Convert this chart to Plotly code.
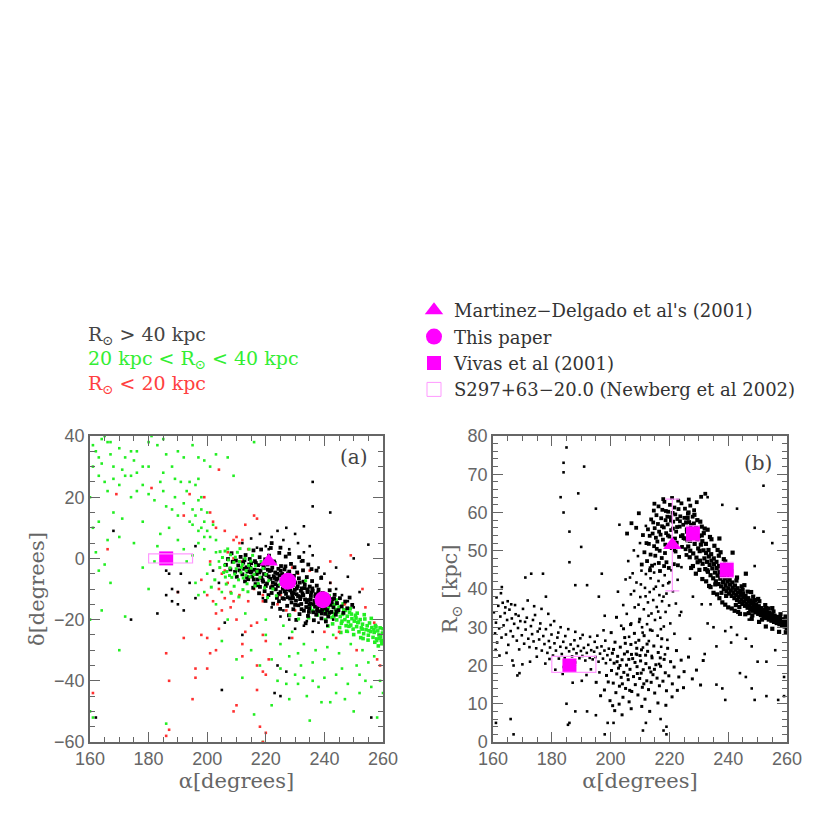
import plotly.graph_objects as go

# ---------------- panel (a): alpha / delta ----------------
# black stars, R > 40 kpc : dense stream
a_blk_band = [
    (206.4,-2.1),(207.1,-0.2),(207.9,-3.6),(208.3,1.7),(208.7,-1.1),(209.5,-4.4),(209.8,-0.7),(210.6,-2.3),
    (210.1,-6.0),(211.4,0.5),(211.0,-3.9),(212.3,-1.4),(212.0,-5.2),(212.9,-7.5),(213.4,-2.9),(213.1,1.1),
    (213.8,-4.3),(214.5,-0.2),(214.0,-6.8),(214.7,-3.1),(215.4,-5.9),(215.0,-1.6),(215.8,2.6),(216.1,-3.7),
    (216.5,-8.4),(216.3,-0.9),(216.9,-5.1),(217.4,-2.2),(217.2,-6.9),(217.9,0.4),(218.2,-4.0),(218.0,-9.3),
    (218.7,-1.8),(218.5,-6.3),(219.3,-3.2),(219.1,-7.6),(219.8,-0.3),(219.6,-10.7),(220.2,-5.4),(220.6,-2.0),
    (220.4,-8.2),(220.9,-12.0),(221.3,-4.1),(221.5,-6.7),(221.1,0.9),(221.8,-9.5),(222.2,-3.0),(222.0,-11.3),
    (222.7,-5.8),(222.4,-7.9),(223.0,-1.5),(223.4,-10.1),(223.2,-4.6),(223.8,-12.9),(223.6,-7.0),(224.3,-3.4),
    (224.1,-9.0),(224.7,-5.5),(224.5,-14.0),(225.0,-11.0),(225.4,-7.7),(225.2,-2.5),(225.8,-9.9),(225.6,-5.1),
    (226.2,-13.2),(226.0,-6.4),(226.6,-8.6),(226.4,-3.6),(226.9,-11.6),(227.3,-15.5),(227.1,-6.0),(227.7,-9.2),
    (227.5,-12.7),(228.0,-4.3),(228.4,-10.5),(228.2,-7.3),(228.8,-14.4),(228.6,-1.8),(229.2,-8.8),(229.0,-12.0),
    (229.6,-5.7),(229.4,-16.6),(229.9,-10.3),(230.3,-13.8),(230.1,-7.9),(230.7,-4.6),(230.5,-11.7),(231.1,-15.3),
    (230.9,-9.1),(231.5,-18.2),(231.3,-6.5),(231.9,-12.6),(232.3,-9.8),(232.1,-14.9),(232.7,-3.9),(232.5,-11.4),
    (233.0,-17.1),(232.9,-7.6),(233.4,-13.4),(233.2,-9.7),(233.8,-15.9),(234.2,-11.0),(234.0,-6.1),(234.6,-13.6),
    (234.4,-18.8),(235.0,-9.2),(234.8,-16.3),(235.4,-12.2),(235.2,-14.7),(235.8,-7.4),(236.2,-17.6),(236.0,-10.6),
    (236.6,-13.9),(236.4,-20.2),(237.0,-11.7),(236.8,-15.8),(237.4,-8.9),(237.2,-18.4),(237.8,-13.0),(238.2,-15.6),
    (238.0,-10.2),(238.6,-17.3),(238.4,-12.5),(239.0,-19.6),(238.8,-14.4),(239.4,-11.3),(239.2,-16.8),(239.8,-13.7),
    (240.3,-18.1),(240.1,-15.4),(240.7,-11.9),(240.5,-20.6),(241.1,-14.3),(240.9,-16.9),(241.5,-12.8),(241.3,-19.0),
    (242.0,-15.2),(241.8,-10.4),(242.4,-17.5),(242.7,-13.3),(243.1,-16.0),(243.5,-11.9),(243.9,-18.4),(244.3,-14.6),
    (244.8,-16.9),(245.3,-13.0),(245.9,-15.7),(246.5,-17.8),(247.1,-14.1),(247.8,-16.3),(248.6,-12.8),(249.5,-15.2),
    (215.7,-9.6),(217.7,-11.4),(219.9,-13.9),(222.5,-14.8),(224.9,-16.5),(227.9,-18.6),(230.4,-20.1),(233.6,-21.2),
    (226.8,0.6),(229.8,-2.9),(232.6,-0.8),(235.6,-3.5),(238.9,-6.4),(224.6,1.8),(221.7,3.4),(218.4,2.9),
    (220.7,-3.7),(222.9,-6.4),(225.9,-8.1),(228.9,-11.1),(231.7,-13.3),(234.9,-15.1),(237.6,-16.6),(223.9,-5.0),
    (226.5,-10.8),(229.3,-13.0),(232.0,-10.6),(235.5,-11.1),(219.4,-5.1),(217.0,-3.9),(214.9,-4.5),(212.6,-3.4),
    (212.7,-0.6),(213.6,-6.1),(214.3,-2.0),(215.1,-4.2),(215.9,-6.9),(216.6,-1.5),(217.3,-8.8),(217.8,-4.6),
    (218.9,-7.1),(219.2,-2.4),(220.0,-9.0),(220.5,-0.9),(221.0,-5.9),(221.9,-3.9),(222.3,-9.2),(222.8,-1.0),
    (223.3,-8.4),(224.0,-6.6),(224.4,-11.6),(225.1,-4.0),(225.7,-13.0),(226.3,-7.3),(226.7,-2.6),(227.4,-10.2),
    (227.6,-4.9),(228.3,-13.1),(228.7,-8.0),(229.5,-11.4),(229.1,-6.9),(230.0,-15.2),(230.6,-9.8),(231.0,-12.3),
    (231.6,-7.9),(232.2,-16.6),(232.8,-12.0),(233.3,-8.6),(233.9,-14.3),(234.3,-10.1),(234.7,-17.5),(235.3,-13.3),
    (235.9,-9.8),(236.3,-15.0),(236.9,-12.4),(237.5,-17.2),(237.9,-11.2),(238.5,-14.0),(239.1,-18.0),(239.6,-12.3),
    (240.2,-16.4),(241.0,-13.0),(241.7,-17.8),(242.5,-14.4),(243.3,-13.1),(244.1,-17.3),(234.5,-2.0),(237.3,-4.0),
    (231.4,0.4),(228.0,1.5),(225.0,3.5),(222.0,5.0),
]
a_blk_scatter = [
    (212,5),(215,6.5),(218,8),(220,4),(222,7),(224,9),(226,6),(228,3),(230,8),(231,5),(233,2),(235,4),
    (232,-1),(236,1),(238,-3),(240,-5),(242,-8),(244,-10),(246,-12),(248,-14),(250,-16),(243,-20),(238,-21),
    (233,-22),(228,-20),(225,-19),(222,-16),(219,-13),(230,-23),(236,-24),(236,25),(236,17),(242,15),(255,4.5),
    (250,0),(252,-11),(244,-3),(248,-6),(227,-37),(223,-44),(225,-45),(205,-43),(228,-26),(212,-25),(206,-21),
    (186,-4),(187,-5),(188,-10),(186,-12),(190,-11),(188,-14),(192,-17),(191,-5),(194,-8),(190,-15),(196,4),
    (168,9),(174,-20),(162,-52),(183,-18),(196,-13),(202,-4),(204,-8),(227,10),(233,10.5),(221,3),(217,3.5),
    (239,-6),(241,-22),(234,-20.5),(226,-17),(256,-52),(224,-35),
]
# green stars, 20 < R < 40 kpc
a_grn_cloud = [
    (161,37),(162,35),(163,33),(164,39),(165,40),(166,38),(167,34),(168,30),(170,36),(172,33),(174,35),(175,32),
    (176,35),(178,30),(180,38),(181,40),(183,37),(185,39),(186,34),(188,30),(190,35),(192,33),(195,37),(197,33),
    (199,32),(201,30),(203,34),(207,33),(209,27),(216,38),(161,30),(163,27),(165,25),(166,22),(168,26),(170,24),
    (172,27),(174,20),(176,22),(178,24),(180,21),(182,19),(184,25),(185,22),(186,17),(188,16),(189,20),(190,14),
    (192,18),(193,22),(194,12),(195,16),(196,14),(197,19),(198,10),(199,12),(200,9),(201,7),(196,24),(197,26),
    (194,25),(160,20),(161,10),(163,12),(162,2),(165,-2),(167,-8),(163,-4),(164,-17),(166,6),(168,15),(170,7),
    (175,5),(178,-3),(180,-10),(172,-19),(170,-30),(161,-52),(160,-50),(186,-54),(160,-20),(178,12),(182,-1),
    (183,4),(184,8),(187,10),(190,6),(192,3),(193,-1),(195,1),(197,5),(199,3),(201,-2),(203,2),(204,-1),
    (200,-5),(196,-8),(185,28),(180,30),(176,28),(171,29),(167,38),(189,26),(191,25),(198,20),(200,15),(202,11),
    (203,6),(199,-11),(197,-12),(205,-11),(203,-15),(198,16),(199,7),(197,9),(195,11),(171,13),(164,31),(174,27),
]
a_grn_mix = [
    (205.2,0.3),(205.9,-2.2),(206.1,2.4),(206.7,-4.3),(207.2,-0.5),(207.8,-3.1),(208.0,1.2),(208.4,-6.2),
    (209.1,-1.3),(209.4,-5.1),(209.9,-3.4),(210.3,2.0),(210.7,-7.0),(211.0,-1.0),(211.5,-4.5),(212.0,-2.0),
    (212.3,-6.4),(212.9,0.0),(213.3,-4.0),(213.6,-8.3),(214.1,-2.3),(214.6,-6.0),(215.0,-3.2),(215.5,1.0),
    (216.0,-5.3),(216.5,-2.4),(217.0,-4.2),(218.0,-6.2),(218.4,-1.0),(219.1,-3.3),(220.0,-5.2),(221.0,-7.3),
    (216.3,-9.0),(212.2,-10.2),(209.2,-9.1),(206.2,-6.1),(204.3,-3.0),(204.4,2.2),(207.0,3.1),(211.2,3.2),
    (214.3,3.0),(206.5,-8.4),(208.2,-11.4),(210.8,-12.6),(213.2,-5.5),(214.9,-0.9),(217.4,-8.2),(219.6,-9.6),
    (211.7,-2.9),(209.6,0.4),(207.6,-5.6),(205.6,-4.6),(213.9,-10.9),(222.4,-10.0),(223.6,-12.2),(220.6,-12.8),
    (228.2,-18.6),(231.2,-19.8),(224.8,-8.5),(233.6,-7.3),(202.6,-7.0),(201.4,-9.4),
]
a_grn_band = [
    (238.2,-15.6),(238.6,-13.2),(239.0,-17.4),(239.4,-14.8),(239.8,-16.9),(240.2,-12.9),(240.6,-15.3),(241.0,-18.1),
    (241.4,-16.2),(241.8,-14.0),(242.2,-17.6),(242.6,-19.3),(243.0,-15.5),(243.4,-18.0),(243.8,-16.7),(244.2,-20.1),
    (244.6,-17.5),(245.0,-15.9),(245.4,-19.0),(245.8,-21.2),(246.2,-18.3),(246.6,-16.8),(247.0,-20.0),(247.4,-22.0),
    (247.8,-18.9),(248.2,-20.7),(248.6,-17.6),(249.0,-21.8),(249.4,-19.7),(249.8,-23.1),(250.2,-20.5),(250.6,-18.6),
    (251.0,-22.3),(251.4,-21.0),(251.8,-24.0),(252.2,-20.0),(252.6,-22.7),(253.0,-21.5),(253.4,-24.6),(253.8,-19.8),
    (254.2,-23.3),(254.6,-22.0),(255.0,-25.1),(255.4,-21.1),(255.8,-23.9),(256.2,-22.6),(256.6,-25.8),(257.0,-24.2),
    (257.4,-21.9),(257.8,-26.3),(258.2,-23.7),(258.6,-25.0),(259.0,-22.7),(259.4,-26.8),(259.8,-24.4),(259.6,-27.9),
    (258.4,-28.6),(257.2,-27.4),(256.0,-19.6),(254.9,-26.7),(253.6,-18.4),(252.4,-25.9),(251.2,-17.9),(250.0,-24.9),
    (248.8,-16.4),(247.6,-23.8),(246.4,-14.9),(245.2,-22.6),(244.0,-13.6),(242.8,-21.4),(241.6,-12.2),(240.4,-20.0),
    (239.2,-11.5),(237.6,-18.5),(236.8,-14.2),(236.0,-17.1),(235.2,-16.0),(234.6,-19.4),(243.6,-15.0),(249.2,-18.2),
    (255.2,-23.6),(251.6,-20.8),(247.2,-17.0),(259.2,-25.6),(260.0,-23.0),(257.6,-22.4),(253.2,-26.2),(245.6,-24.2),
    (241.2,-22.1),(250.8,-19.5),(252.9,-23.1),(256.9,-23.3),(258.9,-26.1),(246.0,-20.5),(243.2,-19.0),(248.4,-22.2),
]
a_grn_south = [
    (215,-30),(218,-35),(220,-25),(222,-33),(225,-28),(228,-32),(230,-38),(232,-35),(234,-45),(236,-40),
    (238,-42),(240,-39),(242,-47),(244,-38),(246,-36),(248,-41),(250,-50),(252,-44),(254,-40),(256,-42),
    (258,-52),(260,-44),(224,-40),(226,-22),(229,-24),(233,-28),(237,-30),(241,-29),(245,-31),(249,-28),
    (253,-30),(257,-32),(235,-53),(228,-46),(219,-60),(216,-51),(212,-39),(210,-33),(205,-27),(207,-20),
    (213,-18),(220,-20),(231,-41),(239,-47),(247,-46),(251,-35),(255,-34),(258,-27),(225,-36),(222,-48),
    (243,-25),(248,-24),(231,-31),(236,-34),(240,-33),(244,-44),(233,-39),(227,-41),(252,-38),(259,-40),
]
# red stars, R < 20 kpc
a_red = [
    (186,-31),(187,-40),(186,-58),(187,-56),(161,-44),(166,3),(169,21),(190,-11),(192,-26),(196,-36),
    (196,-39),(195,-46),(198,-25),(200,-26),(201,-31),(200,-36),(203,-30),(204,-23),(203,-18),(202,-14),
    (205,-17),(207,-8),(205,-5),(200,-12),(198,-7),(210,-20),(212,-28),(210,-48),(209,-50),(212,-32),
    (215,-22),(217,-35),(219,-37),(220,-38),(221,-33),(220,-27),(218,-55),(220,-57),(219,-60),(217,-43),
    (213,-24),(216,-10),(208,-11),(211,-12),(209,-14),(204,29),(201,-1),(202,12),(203,10),(206,9),
    (210,7),(212,6),(214,3),(213,11),(216,14),(217,13),(211,5),(209,6),(199,20),(201,15),(194,21),
    (192,14),(181,23),(249,1),(251,-30),(254,-16),(258,-33),(259,-35),(257,-21),(253,-10),(247,-15),
    (245,-24),(244,-26),(240,-24),(238,-12),(242,-1),(242,-8),(235,-4),(231,-5),(229,-3),(222,-9),
    (225,-12),(227,-17),(230,-17),(228,-10),(219,-12),(209,0),(207,2),(212,-1),(206,-4),(215,-6),
    (212,-3),(219,-14),(224,-15),(229,-26),(219,-25),(217,-21),(206,-13),(204,-10),(208,-16),(214,-14),
]

# ---------------- panel (b): alpha / R_sun ----------------
b_peak = [
    (212.4,47.3),(213.0,51.8),(212.7,55.6),(213.6,49.0),(213.3,53.9),(214.1,46.1),(214.5,57.4),(214.8,51.2),
    (214.3,54.5),(215.2,48.7),(215.6,59.3),(215.0,55.9),(215.9,52.4),(216.4,46.8),(216.1,57.0),(216.7,50.0),
    (216.3,61.6),(217.0,54.2),(217.4,48.1),(217.2,58.5),(217.8,52.9),(217.6,60.7),(218.1,56.1),(218.5,49.4),
    (218.3,62.8),(218.9,54.6),(218.7,58.0),(219.2,51.3),(219.6,60.2),(219.4,56.9),(219.0,47.0),(220.0,53.7),
    (220.4,58.8),(220.2,62.0),(220.8,50.7),(220.6,55.4),(221.1,59.9),(221.5,46.5),(221.3,57.6),(221.9,53.2),
    (221.7,61.3),(222.3,55.0),(222.1,49.8),(222.7,58.3),(222.5,52.1),(223.1,60.9),(223.5,56.3),(223.3,48.4),
    (223.9,53.8),(223.7,59.0),(224.3,51.0),(224.1,62.4),(224.7,56.8),(224.5,54.1),(225.1,58.6),(225.5,50.4),
    (225.3,61.0),(225.9,55.6),(226.3,59.7),(226.1,52.7),(226.7,57.5),(227.1,61.8),(227.5,55.2),(227.9,58.9),
    (228.4,60.6),(216.8,44.7),(219.8,45.5),(222.9,46.2),(214.7,60.5),(217.9,63.5),(220.9,63.8),(223.0,63.1),
    (213.8,58.2),(212.2,52.0),(211.5,49.6),(211.0,54.1),(210.6,46.4),(229.3,62.7),(230.8,64.1),(232.2,64.9),
    (226.6,63.4),(208.7,56.0),(207.1,57.2),(205.6,54.5),(209.6,59.8),(215.4,53.4),(218.6,51.6),(220.5,57.9),
    (222.6,56.2),(216.5,55.0),(219.5,54.0),(221.6,50.2),(224.8,53.3),(213.4,44.9),(218.2,46.0),(225.8,48.9),
    (214.9,62.3),(217.5,56.4),(219.3,58.9),(221.2,55.8),(223.6,57.7),(215.7,50.5),(218.8,60.4),(222.0,59.5),
]
b_arm = [
    (225.3,53.2),(225.7,57.4),(226.0,55.0),(226.4,51.1),(226.2,58.6),(226.8,54.3),(227.1,50.0),(227.4,56.7),
    (227.0,52.6),(227.8,53.9),(228.1,49.3),(228.3,57.1),(228.6,51.8),(228.9,54.6),(229.2,48.2),(229.5,52.9),
    (229.1,55.9),(229.8,50.6),(230.1,53.8),(230.4,47.4),(230.7,51.6),(230.3,49.9),(231.0,54.0),(231.3,46.6),
    (231.6,50.1),(231.9,48.0),(231.2,52.5),(232.2,45.2),(232.5,49.4),(232.8,47.1),(232.4,51.8),(233.1,44.5),
    (233.4,48.5),(233.7,46.3),(233.3,50.2),(234.0,43.6),(234.3,47.4),(234.6,45.4),(234.2,49.1),(234.9,42.8),
    (235.2,46.5),(235.5,44.3),(235.1,48.0),(235.8,42.0),(236.1,45.5),(236.4,43.5),(236.0,47.1),(236.7,41.3),
    (237.0,44.4),(237.3,42.7),(236.9,46.0),(237.6,40.7),(237.9,43.6),(238.2,41.8),(237.8,45.1),(238.5,40.0),
    (238.8,42.8),(239.1,41.0),(238.7,44.0),(239.4,39.4),(239.7,42.0),(240.0,40.2),(239.6,43.1),(240.3,38.8),
    (240.6,41.2),(240.9,39.6),(240.5,42.4),(241.2,38.2),(241.5,40.4),(241.8,39.0),(241.4,41.7),(242.1,37.6),
    (242.4,39.8),(242.7,38.4),(242.3,40.9),(243.0,37.1),(243.3,39.1),(243.6,37.9),(243.2,40.2),(243.9,36.6),
    (244.2,38.5),(244.5,37.2),(244.1,39.5),(244.8,36.1),(245.1,37.9),(245.4,36.7),(245.0,38.8),(245.7,35.6),
    (246.0,37.3),(246.3,36.1),(245.9,38.2),(246.6,35.1),(246.9,36.8),(247.2,35.7),(246.8,37.6),(247.5,34.7),
    (247.8,36.2),(248.1,35.2),(247.7,37.0),(248.4,34.3),(248.7,35.8),(249.0,34.8),(248.6,36.5),(249.3,33.9),
    (249.6,35.3),(249.9,34.4),(249.5,36.0),(250.2,33.5),(250.5,34.9),(250.8,34.0),(250.4,35.5),(251.1,33.2),
    (251.4,34.4),(251.7,33.6),(251.3,35.0),(252.0,32.8),(252.3,34.0),(252.6,33.2),(252.2,34.6),(252.9,32.4),
    (253.2,33.6),(253.5,32.8),(253.1,34.2),(253.8,32.0),(254.1,33.2),(254.4,32.5),(254.0,33.8),(254.7,31.7),
    (255.0,32.8),(255.3,32.1),(254.9,33.4),(255.6,31.4),(255.9,32.5),(256.2,31.8),(255.8,33.0),(256.5,31.1),
    (256.8,32.1),(257.1,31.5),(256.7,32.7),(257.4,30.8),(257.7,31.8),(258.0,31.2),(257.6,32.4),(258.3,30.5),
    (258.6,31.5),(258.9,30.9),(258.5,32.1),(259.2,30.2),(259.5,31.2),(259.8,30.6),(259.4,31.8),(259.9,29.8),
    (228.0,46.0),(230.2,45.0),(232.5,42.0),(234.0,40.5),(236.2,38.6),(238.0,36.5),(240.0,35.2),(242.2,34.3),
    (244.0,33.5),(231.0,56.3),(234.3,53.0),(236.4,50.2),(238.5,47.8),(240.6,45.6),(243.0,43.0),(245.5,41.0),
    (247.8,39.2),(250.2,37.4),(252.6,35.8),(255.0,35.0),(229.5,58.0),(233.0,55.5),(237.0,53.2),(241.5,49.5),
    (246.0,44.0),(226.9,48.3),(229.6,47.0),(232.9,44.9),(235.6,41.2),(239.3,38.2),(243.8,35.3),(248.2,33.1),
    (226.5,60.0),(228.5,59.4),(230.5,57.6),(232.0,55.8),(233.8,53.6),(235.3,51.3),(237.4,49.6),(239.0,47.2),
    (241.0,44.6),(242.8,42.2),(244.6,40.7),(246.6,39.3),(248.5,38.0),(250.6,36.8),(252.9,35.0),(255.4,34.1),
    (257.8,33.4),(259.5,32.8),(227.4,45.5),(229.0,44.0),(231.2,42.6),(233.5,40.8),(235.0,39.0),(237.0,37.6),
    (239.0,35.9),(241.2,34.9),(243.4,34.0),(245.8,33.4),(248.0,32.2),(250.5,31.4),(252.8,30.2),(255.0,29.6),
    (257.3,28.8),(259.6,28.7),(231.7,54.6),(236.8,48.7),(240.9,43.9),(244.9,39.8),(249.1,37.1),(253.7,34.9),
    (237.7,39.0),(242.6,35.8),(247.0,33.7),(251.5,32.0),
]
b_plume = [
    (205.1,42.5),(206.0,47.3),(206.9,38.6),(207.5,44.1),(208.2,35.2),(208.8,41.7),(209.3,48.6),(209.7,31.4),
    (210.1,37.9),(210.5,44.8),(210.9,28.6),(211.3,34.7),(211.7,40.3),(212.0,43.9),(212.4,30.8),(212.7,36.5),
    (213.0,26.4),(213.3,39.2),(213.6,42.8),(213.9,33.6),(214.2,29.1),(214.5,37.1),(214.8,44.3),(215.1,31.9),
    (215.4,40.6),(215.7,35.3),(216.0,27.8),(216.3,42.1),(216.6,38.4),(216.9,32.5),(217.2,24.9),(217.5,36.8),
    (217.8,40.9),(218.1,30.2),(218.4,43.6),(218.7,34.0),(219.0,38.8),(219.3,26.7),(219.6,41.5),(219.9,35.7),
    (220.3,31.0),(220.7,44.9),(221.2,39.4),(221.7,28.3),(222.2,36.2),(222.8,42.4),(223.5,33.1),(224.1,45.7),
    (207.0,31.0),(206.3,27.5),(208.5,26.0),(204.3,35.8),(203.6,30.4),(202.5,39.3),(205.5,33.5),(209.0,22.8),
    (211.0,24.7),(214.0,22.5),(216.5,20.4),(218.5,22.9),(210.0,52.0),(212.0,56.5),(215.0,46.5),(203.0,56.8),
    (207.9,50.1),(213.4,45.6),(211.9,38.1),(210.3,41.2),(209.5,35.9),(214.7,40.0),(216.2,34.1),(218.0,38.0),
    (212.9,33.0),(210.7,30.0),(208.0,39.5),(206.6,43.0),(220.0,41.8),(217.1,29.5),
]
b_low = [
    (160.3,33.9),(160.7,28.4),(161.0,31.2),(161.4,26.0),(161.8,35.6),(162.1,29.7),(162.5,32.8),(162.9,27.3),
    (163.3,36.4),(163.6,30.5),(164.0,33.7),(164.4,28.1),(164.8,31.9),(165.2,25.4),(165.6,34.6),(166.0,29.0),
    (166.4,32.3),(166.8,27.6),(167.2,30.9),(167.7,33.4),(168.1,26.5),(168.5,29.8),(168.9,24.2),(169.3,31.6),
    (169.8,27.9),(170.2,34.8),(170.6,25.7),(171.1,29.4),(171.5,32.5),(172.0,27.0),(172.4,24.8),(172.9,30.3),
    (173.3,28.2),(173.8,26.3),(174.3,33.2),(174.7,24.5),(175.2,28.9),(175.7,26.8),(176.1,31.0),(176.6,23.9),
    (177.1,27.7),(177.5,25.6),(178.0,29.5),(178.5,23.3),(179.0,26.4),(179.4,24.7),(179.9,28.1),(180.4,22.6),
    (180.9,25.8),(181.4,23.9),(181.9,27.3),(182.4,21.8),(182.9,24.9),(183.4,23.0),(183.9,26.2),(184.4,22.1),
    (184.9,24.6),(185.4,21.2),(185.9,23.7),(186.4,25.5),(186.9,22.4),(187.4,24.3),(187.9,20.8),(188.4,23.2),
    (188.9,25.1),(189.4,21.9),(189.9,23.8),(190.4,22.5),(190.9,24.6),(191.4,21.3),(191.9,23.3),(192.4,25.4),
    (192.9,22.0),(193.4,24.0),(193.9,21.6),(194.4,23.6),(194.9,22.2),(195.4,24.7),(195.9,21.0),(196.4,23.1),
    (196.9,25.0),(197.4,21.8),(197.9,23.9),(198.4,20.6),(198.9,22.7),(199.4,24.4),(199.9,21.5),
    (161.2,37.8),(163.0,40.5),(162.2,22.6),(164.6,23.3),(166.6,21.3),(170.0,20.3),(168.3,17.4),(165.0,36.8),
    (167.5,35.8),(171.8,37.0),(174.0,35.5),(176.5,34.8),(178.8,33.5),(180.8,31.6),(183.0,30.0),(185.6,29.5),
    (188.0,28.8),(190.5,28.0),(193.0,27.5),(195.5,27.8),(197.6,29.2),(181.2,18.9),(183.7,17.8),(190.2,16.0),
    (191.8,17.5),(187.1,15.5),(193.3,19.0),(196.2,18.2),(172.6,21.0),(177.8,20.5),(160.9,24.1),(162.7,38.9),
    (164.2,35.2),(166.2,36.0),(168.7,33.0),(170.9,31.4),(173.6,31.9),(175.9,29.6),(179.6,30.6),(182.2,28.6),
    (184.6,27.7),(187.7,26.6),(189.7,27.1),(194.6,26.2),(198.2,26.5),(174.9,22.3),(179.2,21.7),(184.1,19.6),
]
b_mid = [
    (200.3,18.7),(200.6,23.2),(200.9,15.4),(201.2,20.6),(201.5,26.1),(201.8,12.9),(202.1,17.8),(202.4,22.4),
    (202.7,19.3),(203.0,14.6),(203.3,24.8),(203.6,16.9),(203.9,21.5),(204.2,11.7),(204.5,18.2),(204.8,27.3),
    (205.1,14.0),(205.4,20.1),(205.7,23.6),(206.0,16.3),(206.3,10.5),(206.6,19.0),(206.9,25.5),(207.2,13.2),
    (207.5,21.8),(207.8,17.1),(208.1,28.4),(208.4,15.0),(208.7,23.0),(209.0,19.7),(209.3,12.3),(209.6,26.6),
    (209.9,16.6),(210.2,21.2),(210.5,24.1),(210.8,14.3),(211.1,18.9),(211.4,27.8),(211.7,11.2),(212.0,20.5),
    (212.3,16.0),(212.6,23.7),(212.9,13.7),(213.2,19.4),(213.5,29.3),(213.8,15.6),(214.1,22.0),(214.4,17.6),
    (214.7,25.1),(215.0,12.8),(215.4,20.2),(215.8,16.7),(216.2,23.4),(216.6,14.7),(217.0,19.8),(217.4,27.0),
    (217.8,15.9),(218.2,21.6),(218.6,18.1),(219.0,13.4),(219.4,24.5),(219.8,17.3),(220.4,21.0),(221.0,15.2),
    (221.6,19.6),(222.4,23.9),(223.2,17.0),(224.0,21.4),(225.0,18.4),(226.5,22.2),(199.2,15.7),(199.8,10.8),
    (200.7,9.5),(201.4,8.2),(202.9,9.9),(198.6,17.4),(197.9,13.6),(196.6,12.1),(195.1,15.6),(203.9,7.1),
    (207.0,8.7),(210.6,9.3),(213.3,8.0),(216.1,10.2),(218.8,9.6),(220.9,11.8),(222.7,13.5),(224.8,14.2),
    (227.8,16.5),(229.2,18.8),(230.6,14.9),(231.5,21.3),(204.4,29.6),(206.8,30.7),(209.9,32.1),(202.0,32.6),
    (200.2,28.6),(201.0,24.2),(205.0,25.8),(203.2,20.0),(207.1,22.9),(209.1,17.9),(211.9,22.7),(205.8,17.5),
    (208.3,20.8),(210.4,18.0),(204.0,15.2),(206.5,13.5),(211.3,15.2),(213.7,18.3),(202.2,21.0),(204.7,23.0),
    (206.2,21.6),(208.9,24.5),(210.0,22.6),(212.4,25.6),(214.9,19.0),(216.9,22.0),
]
b_outliers = [
    (185,77),(184,73),(184,70.5),(183,64),(184,60),(186,55),(191,72),(189,65),(195,61),(190,51),(186,47),
    (188,41),(192,41),(197,44),(185,10),(186,5),(185.5,4.5),(188,8),(192,8),(195,7),(199,5),(201,5),(198,2),
    (211,3),(212,5),(217,6),(219,2),(219,4),(218,3),(166,6),(167,2),(161,5),(169,18),(167,20),(171,43),
    (173,44),(177,44),(178,38),(196,38),(198,33),(252,67),(249,56),(252,55),(255,52),(249,46),(243,61),
    (238,62),(233,64),(253,21),(250,21),(253,12),(249,11),(248,14),(246,17),(244,18),(238,14),(239,11),
    (236,15),(241,26),(243,28),(246,27),(248,25),(256,24),(259,17),(259,12),(257,11),(236,25),(232,23),
    (234,36),(231,36),(227,27),(224,34),(228,38),(241,30),(239,29),(235,30),(247,32),(233,31),
]

# comparison data (magenta)
md01_ra, md01_dec, md01_r, md01_rerr = [221.0], [-1.0], [51.5], [12.0]
this_ra, this_dec = [227.5, 239.5], [-7.5, -13.5]
vivas_ra_a, vivas_dec_a = [186.0], [0.0]
vivas_ra_b, vivas_r_b, vivas_rerr_b = [186.0, 228.0, 239.5], [20.0, 54.5, 45.0], [0.0, 2.0, 2.0]
newberg_ra = [180.0, 195.0]
newberg_dec = [-1.5, 1.5]
newberg_r = [18.2, 22.4]

xticks = [160, 180, 200, 220, 240, 260]

GRAY = "#666666"
MAG = "#ff00ff"
PINK = "#ff99ff"
GREEN = "#22ee22"
RED = "#ff3030"
SERIF = "DejaVu Serif"

# the page body has an 8px margin, so work in screen pixels and convert
W = 822
def px_x(p):
    return (p - 8) / W
def px_y(p):
    return 1 - (p - 8) / W


def xy(pts):
    return [p[0] for p in pts], [p[1] for p in pts]


def dots(pts, color, xa, ya, size=2.6):
    x, y = xy(pts)
    return go.Scatter(x=x, y=y, mode="markers", xaxis=xa, yaxis=ya, showlegend=False,
                      marker=dict(symbol="square", size=size, color=color, line=dict(width=0)),
                      hoverinfo="skip")


fig = go.Figure()

# panel a
fig.add_trace(dots(a_grn_cloud + a_grn_south, GREEN, "x", "y"))
fig.add_trace(dots(a_grn_band, GREEN, "x", "y", 3.6))
fig.add_trace(dots(a_red, RED, "x", "y"))
fig.add_trace(dots(a_blk_band, "black", "x", "y", 3.8))
fig.add_trace(dots(a_blk_scatter, "black", "x", "y"))
fig.add_trace(dots(a_grn_mix, GREEN, "x", "y", 3.0))

# panel b
fig.add_trace(dots(b_peak, "black", "x2", "y2", 3.8))
fig.add_trace(dots(b_arm, "black", "x2", "y2", 4.2))
fig.add_trace(dots(b_mid, "black", "x2", "y2", 3.0))
fig.add_trace(dots(b_plume + b_low + b_outliers, "black", "x2", "y2"))

# newberg boxes
fig.add_shape(type="rect", xref="x", yref="y", x0=newberg_ra[0], x1=newberg_ra[1],
              y0=newberg_dec[0], y1=newberg_dec[1], line=dict(color=PINK, width=1.2))
fig.add_shape(type="rect", xref="x2", yref="y2", x0=newberg_ra[0], x1=newberg_ra[1],
              y0=newberg_r[0], y1=newberg_r[1], line=dict(color=PINK, width=1.2))

# magenta markers, panel a (these carry the legend)
fig.add_trace(go.Scatter(x=md01_ra, y=md01_dec, mode="markers", xaxis="x", yaxis="y",
                         name="Martinez\u2212Delgado et al's (2001)",
                         marker=dict(symbol="triangle-up", size=16, color=MAG)))
fig.add_trace(go.Scatter(x=this_ra, y=this_dec, mode="markers", xaxis="x", yaxis="y",
                         name="This paper", marker=dict(symbol="circle", size=17, color=MAG)))
fig.add_trace(go.Scatter(x=vivas_ra_a, y=vivas_dec_a, mode="markers", xaxis="x", yaxis="y",
                         name="Vivas et al (2001)", marker=dict(symbol="square", size=14, color=MAG)))
fig.add_trace(go.Scatter(x=[None], y=[None], mode="markers", xaxis="x", yaxis="y",
                         name="S297+63\u221220.0 (Newberg et al 2002)",
                         marker=dict(symbol="square-open", size=14, color=PINK, line=dict(width=1))))

# magenta markers, panel b
fig.add_trace(go.Scatter(x=md01_ra, y=md01_r, mode="markers", xaxis="x2", yaxis="y2", showlegend=False,
                         error_y=dict(type="data", array=md01_rerr, color=PINK, thickness=1.2, width=7),
                         marker=dict(symbol="triangle-up", size=16, color=MAG)))
fig.add_trace(go.Scatter(x=vivas_ra_b, y=vivas_r_b, mode="markers", xaxis="x2", yaxis="y2", showlegend=False,
                         error_y=dict(type="data", array=vivas_rerr_b, color=PINK, thickness=1.2, width=7),
                         marker=dict(symbol="square", size=14, color=MAG)))

axis_common = dict(showgrid=False, zeroline=False, showline=True, linecolor=GRAY, linewidth=1.5,
                   mirror="allticks", ticks="inside", ticklen=10, tickwidth=1.2, tickcolor=GRAY,
                   automargin=False,
                   tickfont=dict(family="Liberation Sans", size=18, color=GRAY),
                   title_font=dict(family=SERIF, size=21, color=GRAY))

fig.update_layout(
    width=W, height=W, margin=dict(l=0, r=0, t=0, b=0, autoexpand=False),
    paper_bgcolor="white", plot_bgcolor="white",
    xaxis=dict(domain=[px_x(90), px_x(383)], range=[160, 260], anchor="y", tickvals=xticks,
               minor=dict(dtick=5, ticks="inside", ticklen=5, tickcolor=GRAY),
               title=dict(text="\u03b1[degrees]", standoff=4), **axis_common),
    yaxis=dict(domain=[px_y(742), px_y(436)], range=[-60, 40], anchor="x", dtick=20,
               minor=dict(dtick=5, ticks="inside", ticklen=5, tickcolor=GRAY),
               title=dict(text="\u03b4[degrees]", standoff=4), **axis_common),
    xaxis2=dict(domain=[px_x(493), px_x(787)], range=[160, 260], anchor="y2", tickvals=xticks,
                minor=dict(dtick=5, ticks="inside", ticklen=5, tickcolor=GRAY),
                title=dict(text="\u03b1[degrees]", standoff=4), **axis_common),
    yaxis2=dict(domain=[px_y(742), px_y(436)], range=[0, 80], anchor="x2", dtick=10,
                minor=dict(dtick=2, ticks="inside", ticklen=5, tickcolor=GRAY),
                title=dict(text="R<sub>\u2299</sub> [kpc]", standoff=4), **axis_common),
    legend=dict(x=px_x(414), y=px_y(292), xanchor="left", yanchor="top",
                font=dict(family=SERIF, size=18, color="#333333"), bgcolor="rgba(0,0,0,0)",
                itemsizing="trace", tracegroupgap=0, itemwidth=30),
    showlegend=True,
)

fig.add_annotation(x=250, y=33, xref="x", yref="y", text="(a)", showarrow=False,
                   font=dict(family=SERIF, size=20, color="#444444"))
fig.add_annotation(x=250, y=73, xref="x2", yref="y2", text="(b)", showarrow=False,
                   font=dict(family=SERIF, size=20, color="#444444"))

left_labels = [
    ("R<sub>\u2299</sub> &gt; 40 kpc", "#444444", 335),
    ("20 kpc &lt; R<sub>\u2299</sub> &lt; 40 kpc", "#33ee33", 360),
    ("R<sub>\u2299</sub> &lt; 20 kpc", "#ff4040", 385),
]
for txt, col, ypx in left_labels:
    fig.add_annotation(x=px_x(86), y=px_y(ypx), xref="paper", yref="paper", text=txt,
                       showarrow=False, xanchor="left", yanchor="middle",
                       font=dict(family=SERIF, size=19, color=col))

fig.write_html("out.html")
